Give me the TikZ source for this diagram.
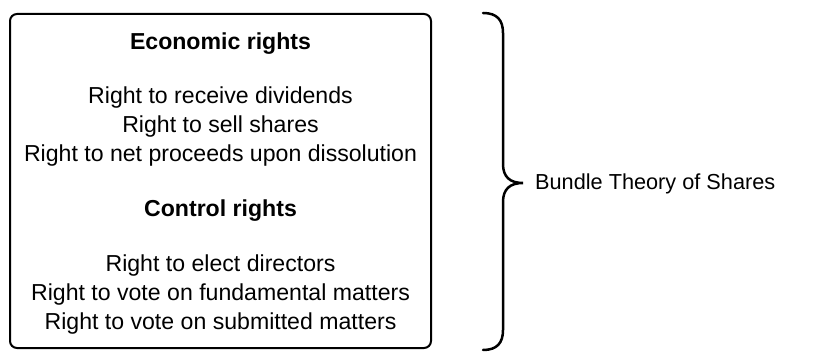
\documentclass[tikz,border=0pt]{standalone}
\usepackage{fontspec}
\setmainfont{Liberation Sans}
\usepackage{tikz}
\usetikzlibrary{positioning}

\begin{document}
\begin{tikzpicture}[x=1pt, y=-1pt,
line/.style={font=\fontsize{23.1}{28}\selectfont, inner sep=0pt, anchor=center},
head/.style={line, font=\fontsize{23.1}{28}\selectfont\bfseries}
]
\useasboundingbox (0,0) rectangle (826,352);
\draw[line width=2pt, rounded corners=7pt] (10,14) rectangle (431,348);
\node[head] (E) at (220.5,44) {Economic rights};
\node[line] (E1) at (220.5,98) {Right to receive dividends};
\node[line] (E2) at (220.5,127) {Right to sell shares};
\node[line] (E3) at (220.5,156) {Right to net proceeds upon dissolution};
\node[head] (C) at (220.5,211) {Control rights};
\node[line] (C1) at (220.5,266) {Right to elect directors};
\node[line] (C2) at (220.5,295) {Right to vote on fundamental matters};
\node[line] (C3) at (220.5,324) {Right to vote on submitted matters};
% brace
\coordinate (BT) at (483,13);
\coordinate (BM) at (523,183);
\coordinate (BB) at (483,350);
\draw[line width=2.5pt, line cap=round] (BT) .. controls (497,13) and (503,20) .. (503,33) -- (503,164)
  .. controls (503,177) and (510,183) .. (BM) .. controls (510,183) and (503,189) .. (503,202)
  -- (503,330) .. controls (503,343) and (497,350) .. (BB);
\node[font=\fontsize{21.7}{26}\selectfont, inner sep=0pt, anchor=west] (T) at (535,184) {Bundle Theory of Shares};
\end{tikzpicture}
\end{document}
